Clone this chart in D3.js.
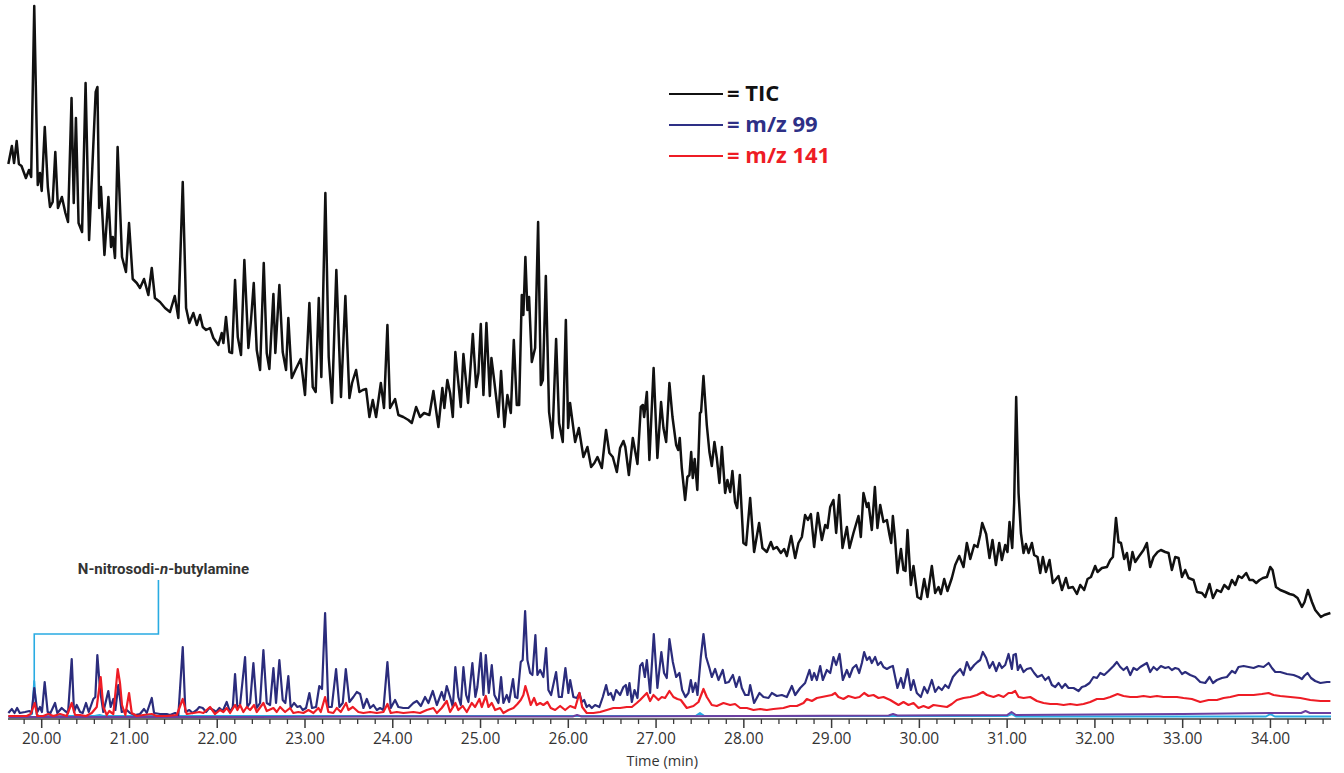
<!DOCTYPE html>
<html>
<head>
<meta charset="utf-8">
<script src="https://cdn.jsdelivr.net/npm/d3@7"></script>
<style>
  body { margin: 0; background: #fff; }
  svg { display: block; }
</style>
</head>
<body>
<div id="chart"></div>
<script>
// retention time (min), abundance (arbitrary units)
var ticData = [
  [19.62,553],[19.66,571],[19.685,554],[19.715,576],[19.74,553],[19.77,551],[19.82,539],[19.855,547],[19.88,540],
  [19.915,711],[19.955,532],[19.98,544],[20.0,526],[20.035,590],[20.07,530],[20.095,510],[20.125,515],[20.155,565],
  [20.185,509],[20.23,520],[20.27,504],[20.30,495],[20.34,619],[20.365,514],[20.39,599],[20.42,494],[20.46,485],
  [20.50,634],[20.54,477],[20.615,625],[20.635,630],[20.655,509],[20.675,530],[20.715,462],[20.76,520],[20.79,470],
  [20.81,480],[20.835,459],[20.865,570],[20.915,460],[20.96,445],[20.995,494],[21.037,438],[21.083,434],[21.12,429],
  [21.166,438],[21.215,422],[21.254,449],[21.29,419],[21.348,415],[21.405,409],[21.462,405],[21.516,421],[21.557,399],
  [21.607,535],[21.645,409],[21.682,394],[21.728,404],[21.767,392],[21.804,402],[21.835,390],[21.873,387],[21.918,389],
  [21.956,379],[22.013,372],[22.051,384],[22.07,374],[22.10,400],[22.138,365],[22.169,364],[22.203,437],[22.234,380],
  [22.271,362],[22.309,457],[22.355,369],[22.385,397],[22.416,434],[22.45,367],[22.488,347],[22.53,454],[22.564,364],
  [22.594,348],[22.64,423],[22.662,364],[22.708,432],[22.746,365],[22.784,347],[22.81,399],[22.849,339],[22.89,347],
  [22.951,358],[23.00,322],[23.05,414],[23.088,330],[23.122,325],[23.157,419],[23.186,340],[23.232,524],[23.27,360],
  [23.308,314],[23.357,447],[23.41,320],[23.46,421],[23.506,319],[23.536,334],[23.582,347],[23.62,325],[23.658,327],
  [23.696,328],[23.734,300],[23.772,317],[23.81,300],[23.864,334],[23.90,309],[23.939,392],[23.969,309],[24.026,318],
  [24.064,302],[24.12,300],[24.178,297],[24.217,294],[24.266,310],[24.311,300],[24.357,304],[24.417,302],[24.463,326],
  [24.52,290],[24.565,329],[24.588,309],[24.622,337],[24.653,324],[24.684,300],[24.713,365],[24.736,344],[24.775,310],
  [24.805,363],[24.858,314],[24.912,383],[24.95,330],[24.976,344],[25.003,393],[25.033,322],[25.067,394],[25.106,321],
  [25.124,359],[25.155,337],[25.204,300],[25.234,346],[25.272,290],[25.306,322],[25.345,304],[25.379,377],[25.413,312],
  [25.44,312],[25.47,422],[25.488,402],[25.511,460],[25.534,407],[25.553,420],[25.584,355],[25.622,369],[25.656,495],
  [25.687,332],[25.71,337],[25.744,441],[25.781,305],[25.819,279],[25.861,378],[25.895,294],[25.937,275],[25.972,397],
  [25.998,289],[26.02,314],[26.078,275],[26.12,289],[26.172,260],[26.218,270],[26.26,250],[26.297,254],[26.332,260],
  [26.382,249],[26.43,287],[26.468,264],[26.507,260],[26.553,245],[26.59,269],[26.628,276],[26.65,270],[26.69,242],
  [26.735,279],[26.788,253],[26.826,310],[26.849,312],[26.864,300],[26.895,325],[26.924,257],[26.972,349],[27.015,259],
  [27.057,315],[27.084,289],[27.115,275],[27.152,334],[27.187,300],[27.229,272],[27.252,267],[27.27,279],[27.293,249],
  [27.331,217],[27.357,240],[27.38,242],[27.40,265],[27.418,239],[27.44,258],[27.47,227],[27.50,304],[27.513,305],
  [27.54,341],[27.578,292],[27.608,265],[27.635,251],[27.665,275],[27.692,259],[27.722,234],[27.75,270],[27.787,224],
  [27.813,237],[27.844,225],[27.87,246],[27.90,215],[27.924,209],[27.954,242],[27.995,174],[28.026,172],[28.072,219],
  [28.117,165],[28.174,194],[28.212,169],[28.262,165],[28.308,175],[28.337,168],[28.376,170],[28.422,164],[28.459,168],
  [28.49,161],[28.539,181],[28.585,159],[28.622,174],[28.661,180],[28.698,202],[28.73,197],[28.764,203],[28.801,170],
  [28.843,204],[28.889,177],[28.927,192],[28.953,189],[28.984,210],[29.021,217],[29.052,184],[29.086,222],[29.124,169],
  [29.174,190],[29.204,169],[29.249,184],[29.306,201],[29.333,180],[29.363,224],[29.402,210],[29.42,214],[29.458,187],
  [29.493,230],[29.522,189],[29.554,212],[29.591,195],[29.63,197],[29.66,182],[29.679,174],[29.698,201],[29.724,177],
  [29.75,144],[29.79,168],[29.819,147],[29.842,146],[29.865,187],[29.903,132],[29.933,151],[29.978,120],[30.017,118],
  [30.055,138],[30.092,120],[30.142,151],[30.18,124],[30.218,130],[30.245,123],[30.283,138],[30.32,126],[30.37,139],
  [30.408,152],[30.454,161],[30.503,150],[30.541,174],[30.58,158],[30.625,172],[30.662,170],[30.693,182],[30.716,194],
  [30.761,183],[30.799,159],[30.833,177],[30.872,152],[30.91,174],[30.94,157],[30.978,172],[31.004,165],[31.027,195],
  [31.058,169],[31.08,214],[31.103,320],[31.13,224],[31.157,184],[31.187,164],[31.214,173],[31.244,164],[31.282,174],
  [31.308,162],[31.346,160],[31.377,144],[31.407,160],[31.442,145],[31.483,157],[31.521,134],[31.585,141],[31.624,127],
  [31.67,139],[31.699,129],[31.749,130],[31.795,123],[31.833,132],[31.878,127],[31.916,138],[31.955,140],[32.003,151],
  [32.03,145],[32.08,149],[32.137,150],[32.175,157],[32.205,160],[32.24,199],[32.269,175],[32.297,174],[32.334,158],
  [32.365,164],[32.394,147],[32.428,165],[32.459,155],[32.497,160],[32.554,167],[32.592,174],[32.63,150],[32.668,160],
  [32.714,165],[32.752,167],[32.801,165],[32.839,164],[32.877,147],[32.915,160],[32.953,159],[32.992,140],[33.029,147],
  [33.067,139],[33.124,137],[33.163,125],[33.22,124],[33.257,120],[33.306,133],[33.345,119],[33.39,127],[33.436,125],
  [33.474,132],[33.523,128],[33.561,137],[33.599,132],[33.636,141],[33.675,139],[33.724,144],[33.762,137],[33.80,137],
  [33.838,134],[33.876,137],[33.915,139],[33.96,140],[33.998,150],[34.024,147],[34.063,130],[34.112,127],[34.169,125],
  [34.218,123],[34.263,122],[34.309,119],[34.359,110],[34.389,115],[34.427,127],[34.473,115],[34.51,107],[34.575,100],
  [34.613,102],[34.683,104]
];

var mz99Data = [
  [19.62,4],[19.66,8],[19.69,4],[19.72,9],[19.75,4],[19.81,5],[19.86,6],[19.885,4],[19.915,29],[19.95,5],[19.98,10],
  [20.003,5],[20.034,35],[20.068,5],[20.10,4],[20.152,14],[20.178,4],[20.228,9],[20.266,6],[20.30,4],[20.342,58],
  [20.368,5],[20.399,12],[20.437,5],[20.467,4],[20.505,14],[20.536,5],[20.588,18],[20.611,20],[20.634,62],[20.665,27],
  [20.702,5],[20.759,26],[20.786,10],[20.816,18],[20.839,7],[20.873,32],[20.912,5],[20.969,7],[21.006,4],[21.063,2],
  [21.12,3],[21.166,8],[21.197,4],[21.254,19],[21.28,4],[21.348,3],[21.425,3],[21.462,2],[21.52,4],[21.557,2],
  [21.607,70],[21.637,5],[21.682,7],[21.72,4],[21.767,7],[21.796,10],[21.835,9],[21.873,5],[21.91,9],[21.956,7],
  [21.987,5],[22.025,9],[22.063,6],[22.108,15],[22.146,5],[22.177,10],[22.203,43],[22.23,9],[22.26,12],[22.317,60],
  [22.343,10],[22.374,14],[22.412,54],[22.45,9],[22.488,14],[22.526,67],[22.564,14],[22.602,12],[22.64,49],[22.67,14],
  [22.708,57],[22.746,17],[22.776,14],[22.81,41],[22.837,9],[22.875,14],[22.913,10],[22.944,11],[22.974,7],[23.012,9],
  [23.05,24],[23.08,9],[23.126,10],[23.163,31],[23.194,28],[23.229,104],[23.266,10],[23.305,10],[23.354,48],[23.392,10],
  [23.43,14],[23.465,48],[23.506,15],[23.551,20],[23.59,25],[23.628,23],[23.665,9],[23.704,18],[23.742,9],[23.78,12],
  [23.818,7],[23.855,9],[23.893,7],[23.939,55],[23.977,9],[24.026,17],[24.064,10],[24.12,9],[24.178,9],[24.235,14],
  [24.274,16],[24.32,11],[24.368,20],[24.406,14],[24.456,26],[24.502,12],[24.558,25],[24.585,17],[24.615,31],[24.653,20],
  [24.684,10],[24.713,50],[24.747,20],[24.775,12],[24.805,50],[24.836,22],[24.862,15],[24.907,54],[24.941,20],[24.964,30],
  [25.003,64],[25.033,22],[25.06,62],[25.094,24],[25.128,52],[25.158,22],[25.204,14],[25.234,40],[25.26,14],[25.299,22],
  [25.325,15],[25.37,38],[25.394,20],[25.42,19],[25.458,55],[25.48,57],[25.508,106],[25.534,57],[25.565,44],[25.591,42],
  [25.625,82],[25.648,42],[25.679,47],[25.716,40],[25.747,69],[25.773,27],[25.804,22],[25.861,45],[25.892,20],[25.926,20],
  [25.967,49],[26.001,24],[26.021,37],[26.058,20],[26.097,19],[26.127,24],[26.154,15],[26.18,17],[26.21,10],[26.237,12],
  [26.268,9],[26.305,12],[26.354,10],[26.393,20],[26.431,32],[26.457,22],[26.484,24],[26.514,17],[26.545,27],[26.59,22],
  [26.628,30],[26.655,32],[26.674,22],[26.697,34],[26.724,15],[26.754,27],[26.788,19],[26.818,51],[26.845,54],[26.872,40],
  [26.895,57],[26.932,24],[26.974,83],[27.015,29],[27.06,65],[27.091,44],[27.122,39],[27.152,78],[27.191,55],[27.229,40],
  [27.266,44],[27.297,27],[27.335,20],[27.369,24],[27.396,37],[27.419,25],[27.449,34],[27.472,22],[27.51,60],[27.54,83],
  [27.57,60],[27.608,49],[27.635,40],[27.673,48],[27.711,37],[27.76,47],[27.79,34],[27.829,35],[27.875,42],[27.912,30],
  [27.95,40],[27.977,29],[28.015,22],[28.053,22],[28.072,32],[28.117,14],[28.178,24],[28.224,20],[28.281,19],[28.319,24],
  [28.376,21],[28.433,22],[28.49,20],[28.547,31],[28.585,22],[28.642,29],[28.698,34],[28.748,47],[28.775,37],[28.801,44],
  [28.832,37],[28.87,51],[28.90,37],[28.946,47],[28.984,44],[29.021,60],[29.052,52],[29.09,63],[29.128,37],[29.174,47],
  [29.204,40],[29.242,49],[29.28,52],[29.314,44],[29.345,54],[29.371,65],[29.402,57],[29.432,60],[29.458,54],[29.496,60],
  [29.527,52],[29.561,55],[29.591,50],[29.63,48],[29.668,50],[29.698,51],[29.724,40],[29.75,29],[29.79,39],[29.819,29],
  [29.865,48],[29.903,27],[29.933,37],[29.971,24],[30.017,20],[30.055,30],[30.092,24],[30.142,37],[30.18,25],[30.218,30],
  [30.256,27],[30.294,32],[30.332,29],[30.382,40],[30.42,44],[30.465,48],[30.503,42],[30.541,55],[30.58,47],[30.625,52],
  [30.662,55],[30.693,57],[30.723,65],[30.761,59],[30.799,49],[30.837,55],[30.875,46],[30.91,54],[30.94,49],[30.978,52],
  [31.016,63],[31.054,48],[31.072,62],[31.099,63],[31.122,47],[31.149,52],[31.187,45],[31.225,48],[31.27,49],[31.308,44],
  [31.346,40],[31.396,42],[31.434,37],[31.472,40],[31.51,32],[31.548,30],[31.586,34],[31.624,29],[31.662,33],[31.699,29],
  [31.757,29],[31.814,26],[31.852,30],[31.89,31],[31.939,34],[31.984,40],[32.023,39],[32.061,44],[32.106,42],[32.155,46],
  [32.212,51],[32.25,55],[32.289,50],[32.326,47],[32.365,50],[32.403,42],[32.44,49],[32.479,47],[32.517,50],[32.554,52],
  [32.592,54],[32.63,45],[32.668,50],[32.707,47],[32.752,51],[32.801,49],[32.839,50],[32.877,47],[32.915,49],[32.953,48],
  [32.992,43],[33.029,45],[33.086,42],[33.143,40],[33.20,35],[33.257,34],[33.306,40],[33.345,34],[33.39,37],[33.447,39],
  [33.504,40],[33.561,46],[33.599,44],[33.636,50],[33.694,51],[33.751,50],[33.808,49],[33.865,51],[33.922,50],[33.979,54],
  [34.017,49],[34.055,45],[34.112,45],[34.188,43],[34.264,42],[34.321,40],[34.359,38],[34.385,41],[34.423,44],[34.462,39],
  [34.51,36],[34.569,34],[34.645,35],[34.683,35]
];

var mz141Data = [
  [19.62,1],[19.677,1],[19.753,1],[19.829,1],[19.875,3],[19.92,14],[19.95,1],[20.018,1],[20.075,3],[20.132,1],[20.209,3],
  [20.285,1],[20.342,14],[20.38,2],[20.437,2],[20.505,1],[20.57,4],[20.627,10],[20.672,40],[20.702,10],[20.741,2],
  [20.77,6],[20.816,3],[20.866,48],[20.892,34],[20.915,12],[20.953,2],[20.995,24],[21.026,4],[21.083,1],[21.158,2],
  [21.254,3],[21.311,1],[21.425,1],[21.539,2],[21.607,18],[21.652,3],[21.728,4],[21.796,5],[21.842,4],[21.918,10],
  [21.975,3],[22.032,7],[22.07,5],[22.108,9],[22.146,4],[22.203,12],[22.23,7],[22.26,12],[22.298,5],[22.336,10],
  [22.374,7],[22.42,12],[22.45,5],[22.526,14],[22.564,6],[22.64,9],[22.678,5],[22.716,10],[22.773,5],[22.83,9],
  [22.867,4],[22.924,5],[22.981,4],[23.039,7],[23.096,4],[23.153,9],[23.18,5],[23.229,20],[23.266,5],[23.323,4],
  [23.362,9],[23.408,5],[23.468,14],[23.494,7],[23.545,10],[23.608,5],[23.665,4],[23.742,5],[23.818,4],[23.893,5],
  [23.939,13],[23.977,4],[24.046,5],[24.121,4],[24.235,5],[24.311,4],[24.387,7],[24.463,9],[24.502,4],[24.558,9],
  [24.615,16],[24.653,5],[24.713,14],[24.747,7],[24.797,11],[24.843,5],[24.90,14],[24.938,10],[24.987,18],[25.014,10],
  [25.06,21],[25.09,10],[25.128,14],[25.166,7],[25.223,9],[25.26,4],[25.318,7],[25.375,9],[25.42,13],[25.458,17],
  [25.488,22],[25.511,31],[25.541,22],[25.572,12],[25.61,19],[25.64,12],[25.679,14],[25.716,12],[25.762,15],[25.80,9],
  [25.85,7],[25.907,11],[25.964,7],[26.021,11],[26.078,9],[26.127,24],[26.158,10],[26.21,4],[26.286,4],[26.363,5],
  [26.439,7],[26.514,9],[26.59,9],[26.666,10],[26.724,10],[26.78,14],[26.818,17],[26.895,24],[26.932,16],[26.97,22],
  [27.027,17],[27.065,20],[27.103,19],[27.152,26],[27.198,20],[27.243,18],[27.282,17],[27.35,9],[27.426,11],[27.483,15],
  [27.54,28],[27.578,20],[27.635,12],[27.692,11],[27.768,14],[27.844,12],[27.90,13],[27.958,9],[28.034,9],[28.11,7],
  [28.186,8],[28.262,7],[28.337,8],[28.451,9],[28.528,11],[28.604,11],[28.68,14],[28.718,18],[28.775,16],[28.832,19],
  [28.889,20],[28.946,21],[29.003,22],[29.04,24],[29.078,20],[29.135,18],[29.192,21],[29.268,19],[29.318,20],[29.371,24],
  [29.42,21],[29.477,22],[29.534,19],[29.591,20],[29.668,17],[29.705,15],[29.762,12],[29.819,15],[29.876,12],[29.933,14],
  [29.99,9],[30.047,11],[30.104,9],[30.161,12],[30.237,11],[30.314,10],[30.37,13],[30.427,17],[30.503,19],[30.58,20],
  [30.656,22],[30.724,25],[30.77,22],[30.845,20],[30.902,22],[30.959,20],[31.016,24],[31.054,24],[31.092,26],[31.13,20],
  [31.187,19],[31.263,20],[31.339,16],[31.415,14],[31.491,13],[31.567,13],[31.643,12],[31.719,13],[31.795,12],[31.87,13],
  [31.947,15],[32.023,18],[32.10,18],[32.175,20],[32.258,23],[32.326,21],[32.403,20],[32.479,20],[32.554,21],[32.63,20],
  [32.707,21],[32.782,20],[32.859,20],[32.935,20],[33.01,19],[33.105,18],[33.20,15],[33.295,17],[33.39,17],[33.466,19],
  [33.543,20],[33.636,22],[33.732,22],[33.808,22],[33.903,23],[33.979,24],[34.036,22],[34.112,21],[34.226,20],[34.34,19],
  [34.454,17],[34.569,16],[34.683,16]
];

// unlabelled ion traces near the baseline
var cyanData = [
  [19.62,1],[19.85,1],[19.89,3],[19.915,36],[19.94,3],[19.97,1],[20.6,1],[20.66,2],[20.7,1],[22.0,1],[24.0,1],[26.0,1],
  [27.45,1],[27.5,4],[27.55,1],[29.0,1],[31.0,1],[31.05,3],[31.1,0.5],[33.0,0.5],[33.95,0.5],[34.0,3],[34.05,0.5],[34.69,0.5]
];
var purpleData = [
  [19.62,0],[22.0,0],[24.0,0.5],[26.05,0.5],[26.1,2],[26.15,0.5],[28.0,1],[29.65,1.5],[29.7,3],[29.75,1.5],[31.0,2],
  [31.05,5],[31.1,2],[32.0,2.5],[33.0,3],[34.0,4],[34.35,4],[34.4,6],[34.45,4],[34.69,4]
];

var majorTicks = [20,21,22,23,24,25,26,27,28,29,30,31,32,33,34];
var legendLabels = ["= TIC", "= m/z 99", "= m/z 141"];
var peakLabel = { time: 19.915, level: 36, text: ["N-nitrosodi-", "n", "-butylamine"], textTime: 21.33 };

function Chromatogram() {
    var self = this;
    this.width = 1344;
    this.height = 773;
    this.axisY = 719;
    this.svg = d3.select("#chart").append("svg").attr("width", this.width).attr("height", this.height);

    this.x = d3.scaleLinear().domain([19.616, 34.69]).range([8, 1331]);
    this.y = d3.scaleLinear().domain([0, 720]).range([717, -3]);

    this.line = d3.line()
        .x(function (d) { return self.x(d[0]); })
        .y(function (d) { return self.y(d[1]); });

    this.drawAxis = function () {
        var minor = d3.range(19.8, 34.65, 0.2).filter(function (t) {
            return Math.abs(t - Math.round(t)) > 0.01;
        });
        var g = self.svg.append("g").attr("transform", "translate(0," + self.axisY + ")");
        g.append("line")
            .attr("x1", self.x.range()[0]).attr("x2", self.x.range()[1])
            .attr("stroke", "#3b3b3b").attr("stroke-width", 1.6);
        g.selectAll(".minor").data(minor).enter().append("line")
            .attr("x1", self.x).attr("x2", self.x)
            .attr("y1", 0).attr("y2", 5)
            .attr("stroke", "#3b3b3b").attr("stroke-width", 1.3);
        g.selectAll(".major").data(majorTicks).enter().append("line")
            .attr("x1", self.x).attr("x2", self.x)
            .attr("y1", 0).attr("y2", 9)
            .attr("stroke", "#3b3b3b").attr("stroke-width", 1.5);
        g.selectAll(".lbl").data(majorTicks).enter().append("text")
            .attr("x", self.x).attr("y", 25)
            .attr("text-anchor", "middle")
            .attr("font-family", "Open Sans, sans-serif")
            .attr("font-size", "15.5px")
            .attr("fill", "#333")
            .text(function (d) { return d.toFixed(2); });
        self.svg.append("text")
            .attr("x", self.x(27.07)).attr("y", 766)
            .attr("text-anchor", "middle")
            .attr("font-family", "Open Sans, sans-serif")
            .attr("font-size", "14.5px")
            .attr("fill", "#333")
            .text("Time (min)");
    };

    this.drawTraces = function () {
        var traces = [
            { data: cyanData, color: "#29abe2", w: 2 },
            { data: purpleData, color: "#6b3fa0", w: 2 },
            { data: mz99Data, color: "#2b2c7c", w: 2.2 },
            { data: mz141Data, color: "#ee1c25", w: 2.2 },
            { data: ticData, color: "#111111", w: 2.5 }
        ];
        self.svg.selectAll(".trace").data(traces).enter().append("path")
            .attr("class", "trace")
            .attr("d", function (d) { return self.line(d.data); })
            .attr("fill", "none")
            .attr("stroke", function (d) { return d.color; })
            .attr("stroke-width", function (d) { return d.w; })
            .attr("stroke-linejoin", "round");
    };

    this.drawLegend = function () {
        var colors = ["#111111", "#2e3086", "#ee1c25"];
        var g = self.svg.append("g").attr("transform", "translate(669,94)");
        legendLabels.forEach(function (lbl, i) {
            g.append("line")
                .attr("x1", 0).attr("x2", 54)
                .attr("y1", i * 31).attr("y2", i * 31)
                .attr("stroke", colors[i]).attr("stroke-width", 2.2);
            g.append("text")
                .attr("x", 58).attr("y", i * 31 + 7)
                .attr("font-family", "Open Sans, sans-serif")
                .attr("font-weight", "bold")
                .attr("font-size", "22px")
                .attr("fill", colors[i])
                .text(lbl);
        });
    };

    this.drawAnnotation = function () {
        var px = self.x(peakLabel.time), tx = self.x(peakLabel.textTime);
        var py = self.y(peakLabel.level) + 4;
        self.svg.append("path")
            .attr("d", "M" + tx + ",580V634H" + px + "V" + py)
            .attr("fill", "none")
            .attr("stroke", "#29abe2")
            .attr("stroke-width", 1.6);
        var t = self.svg.append("text")
            .attr("x", tx + 5).attr("y", 574)
            .attr("text-anchor", "middle")
            .attr("font-family", "Liberation Sans Narrow, Roboto, sans-serif")
            .attr("font-weight", "bold")
            .attr("font-size", "15px")
            .attr("fill", "#333");
        t.append("tspan").text(peakLabel.text[0]);
        t.append("tspan").attr("font-style", "italic").text(peakLabel.text[1]);
        t.append("tspan").text(peakLabel.text[2]);
    };

    this.drawAxis();
    this.drawTraces();
    this.drawLegend();
    this.drawAnnotation();
}

document.addEventListener("DOMContentLoaded", function () {
    new Chromatogram();
});
</script>
</body>
</html>
